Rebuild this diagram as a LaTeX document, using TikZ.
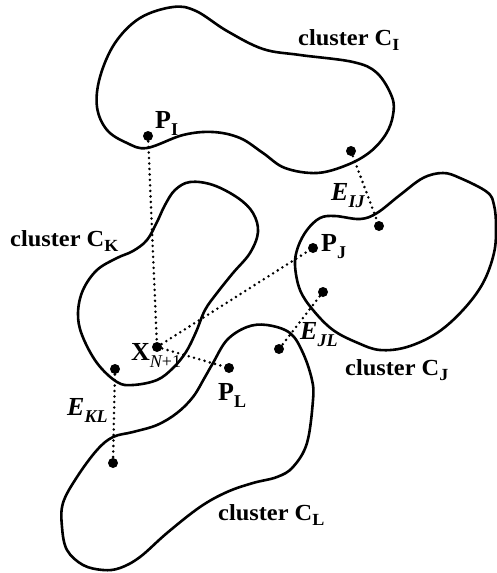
\documentclass[tikz,border=0pt]{standalone}
\usepackage{fontspec}
\setmainfont[FakeStretch=1.06]{Liberation Serif}
\newfontfamily\labfont{Liberation Serif}
\tikzset{
  blob/.style={draw=black, line width=2.6pt, line join=round},
  dot/.style={circle, fill=black, inner sep=0pt, minimum size=10pt},
  dotline/.style={line width=2.8pt, line cap=round, dash pattern=on 0pt off 5.5pt},
  clab/.style={anchor=base west, inner sep=0pt, font=\fontsize{23}{26}\selectfont\bfseries},
  plab/.style={anchor=base west, inner sep=0pt, font=\labfont\fontsize{26}{28}\selectfont\bfseries}
}
\newcommand{\csub}[1]{\raisebox{-5pt}{\fontsize{17}{17}\selectfont #1}}
\newcommand{\psub}[1]{\raisebox{-7pt}{\fontsize{18}{18}\selectfont #1}}
\begin{document}
\begin{tikzpicture}[x=1pt,y=-1pt]
\useasboundingbox (0,0) rectangle (497,573);
% cluster C_I
\draw[blob] plot[smooth cycle, tension=0.6] coordinates {
 (97,107) (100,77) (115,43) (140,18) (173,7) (196,11) (227,31) (263,49) (300,55) (353,62)
 (377,73) (392,97) (393,115) (386,134) (370,152) (347,165) (317,173) (285,168) (263,153)
 (240,138) (213,132) (183,135) (147,148) (127,143) (107,130)};
% cluster C_K
\draw[blob] plot[smooth cycle, tension=0.6] coordinates {
 (190,182) (213,185) (238,198) (253,213) (258,232) (250,253) (233,273) (217,293) (205,310)
 (196,332) (186,352) (173,368) (157,380) (133,385) (117,382) (97,363) (82,335) (78,313)
 (83,290) (97,270) (117,258) (133,251) (147,240) (157,222) (165,205) (175,190)};
% cluster C_J
\draw[blob] plot[smooth cycle, tension=0.6] coordinates {
 (298,247) (307,230) (320,218) (335,216) (360,219) (377,213) (400,195) (423,178) (443,173)
 (460,178) (487,192) (494,205) (496,227) (494,253) (483,283) (463,310) (437,333) (407,347)
 (380,350) (358,343) (333,330) (313,310) (300,290) (295,265)};
% cluster C_L
\draw[blob] plot[smooth cycle, tension=0.6] coordinates {
 (213,363) (227,340) (247,327) (267,325) (290,333) (303,353) (312,380) (313,400) (307,443)
 (293,467) (277,477) (253,483) (227,492) (200,507) (167,533) (140,557) (120,568) (103,570)
 (83,565) (67,550) (62,527) (63,503) (77,477) (97,450) (113,437) (133,432) (157,425)
 (177,413) (193,397) (205,377)};
% points
\node[dot] (pI) at (148,136) {};
\node[dot] (eI) at (351,151) {};
\node[dot] (eJa) at (379,226) {};
\node[dot] (pJ) at (313,248) {};
\node[dot] (eJb) at (323,292) {};
\node[dot] (eLa) at (279,349) {};
\node[dot] (pL) at (229,368) {};
\node[dot] (x) at (157,347) {};
\node[dot] (eK) at (115,369) {};
\node[dot] (eLb) at (113,463) {};
% dotted connectors
\draw[dotline] (pI.center) -- (x.center);
\draw[dotline] (x.center) -- (pJ.center);
\draw[dotline] (x.center) -- (pL.center);
\draw[dotline] (eI.center) -- (eJa.center);
\draw[dotline] (eJb.center) -- (eLa.center);
\draw[dotline] (eK.center) -- (eLb.center);
% cluster labels
\node[clab] (lI) at (298,45) {cluster C\csub{I}};
\node[clab] (lK) at (10,246) {cluster C\csub{K}};
\node[clab] (lJ) at (345,375) {cluster C\csub{J}};
\node[clab] (lL) at (218,520) {cluster C\csub{L}};
% point labels
\node[plab] (tPI) at (155,128) {P\psub{I}};
\node[plab] (tPJ) at (321,251) {P\psub{J}};
\node[plab] (tPL) at (218,400) {P\psub{L}};
\node[plab] (tX) at (131,360) {X\psub{\mdseries\itshape N\upshape +1}};
\node[plab] (tEIJ) at (331,200) {\itshape E\psub{IJ}};
\node[plab] (tEJL) at (300,339) {\itshape E\psub{JL}};
\node[plab] (tEKL) at (67,415) {\itshape E\psub{KL}};
\end{tikzpicture}
\end{document}
